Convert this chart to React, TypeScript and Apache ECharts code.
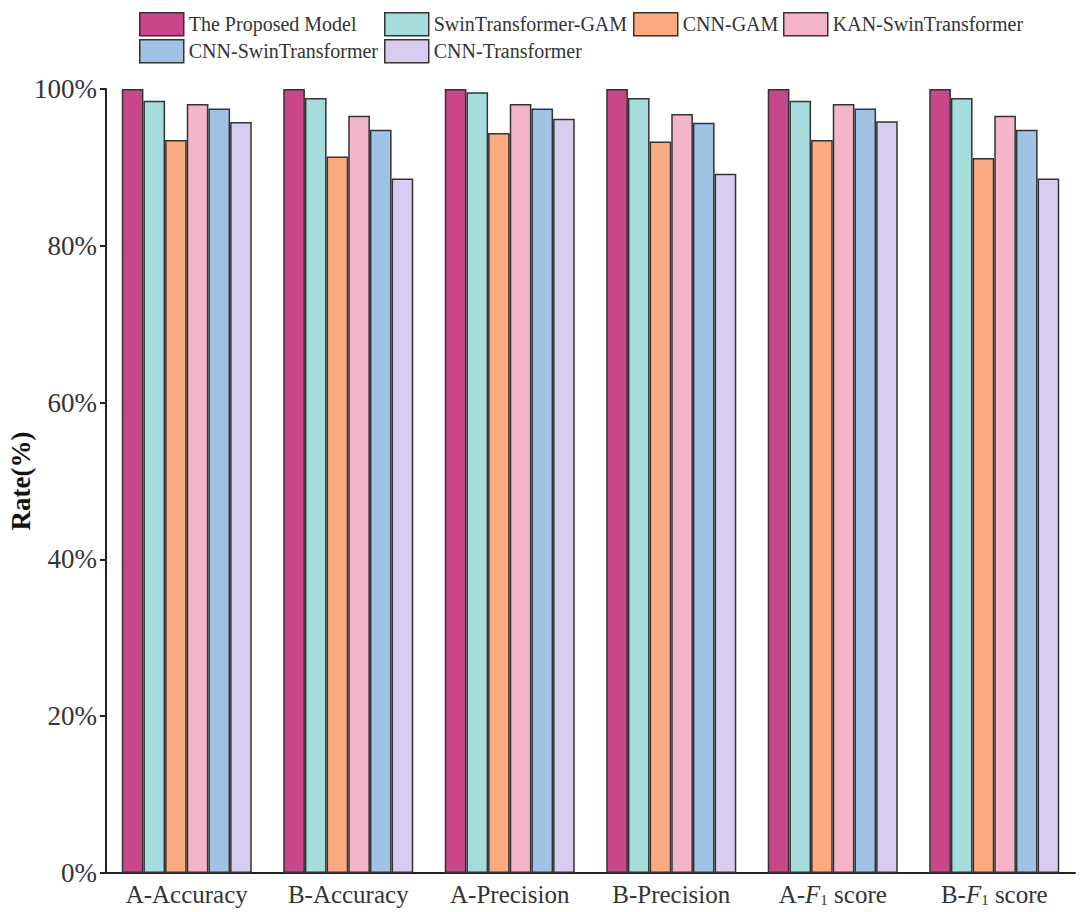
import React, { useEffect, useRef } from "react";
import * as echarts from "echarts";

const categories = ["A-Accuracy", "B-Accuracy", "A-Precision", "B-Precision", "A-F1 score", "B-F1 score"];
const seriesNames = [
  "The Proposed Model",
  "SwinTransformer-GAM",
  "CNN-GAM",
  "KAN-SwinTransformer",
  "CNN-SwinTransformer",
  "CNN-Transformer",
];
const proposed = [100, 100, 100, 100, 100, 100];
const swinGam = [98.5, 98.85, 99.6, 98.85, 98.5, 98.85];
const cnnGam = [93.5, 91.4, 94.4, 93.3, 93.5, 91.2];
const kanSwin = [98.1, 96.6, 98.1, 96.8, 98.1, 96.6];
const cnnSwin = [97.5, 94.8, 97.5, 95.7, 97.5, 94.8];
const cnnTrans = [95.8, 88.6, 96.2, 89.2, 95.9, 88.6];
const seriesValues = [proposed, swinGam, cnnGam, kanSwin, cnnSwin, cnnTrans];
const colors = ["#C9468A", "#A7DCDC", "#FCAA82", "#F5B5C8", "#A0C2E4", "#D8CCF0"];
const yTicks = [0, 20, 40, 60, 80, 100];

const FONT = "'Liberation Serif', 'Times New Roman', serif";

const legendPos = [
  { left: 139, top: 12 },
  { left: 384, top: 12 },
  { left: 633, top: 12 },
  { left: 783, top: 12 },
  { left: 139, top: 39 },
  { left: 384, top: 39 },
];

export default function App() {
  const ref = useRef<HTMLDivElement>(null);
  useEffect(() => {
    if (!ref.current) return;
    const chart = echarts.init(ref.current, null, { renderer: "svg" });
    const option: any = {
      animation: false,
      backgroundColor: "#ffffff",
      legend: seriesNames.map((n, i) => ({
        data: [n],
        left: legendPos[i].left,
        top: legendPos[i].top,
        padding: 0,
        itemWidth: 44,
        itemHeight: 23,
        icon: "rect",
        selectedMode: false,
        itemStyle: { borderColor: "#333", borderWidth: 1.5 },
        textStyle: { fontFamily: FONT, fontSize: 20, color: "#333" },
      })),
      grid: {
        left: 106,
        right: 5,
        top: 89,
        bottom: 39,
        containLabel: false,
        outerBoundsMode: "none",
      },
      xAxis: {
        type: "category",
        data: categories,
        axisLine: { lineStyle: { color: "#222", width: 2 } },
        axisTick: { alignWithLabel: true, length: 5, lineStyle: { color: "#222", width: 2 } },
        axisLabel: {
          interval: 0,
          margin: 9,
          fontFamily: FONT,
          fontSize: 25,
          color: "#333",
          formatter: (v: string) => {
            if (v.indexOf("F1") >= 0) {
              const pre = v.split("F1")[0];
              const post = v.split("F1")[1];
              return `${pre}{i|F}{s|1}${post}`;
            }
            return v;
          },
          rich: {
            i: { fontFamily: FONT, fontSize: 25, fontStyle: "italic", color: "#333" },
            s: { fontFamily: FONT, fontSize: 15, color: "#333", verticalAlign: "bottom", lineHeight: 15 },
          },
        },
      },
      yAxis: {
        type: "value",
        min: yTicks[0],
        max: yTicks[yTicks.length - 1],
        interval: 20,
        name: "Rate(%)",
        nameLocation: "middle",
        nameGap: 72,
        nameMoveOverlap: false,
        nameTextStyle: { fontFamily: FONT, fontSize: 27, fontWeight: "bold", color: "#111" },
        axisLine: { show: true, lineStyle: { color: "#222", width: 2 } },
        axisTick: { show: true, length: 6, lineStyle: { color: "#222", width: 2 } },
        splitLine: { show: false },
        axisLabel: {
          margin: 9,
          fontFamily: FONT,
          fontSize: 27,
          color: "#333",
          formatter: "{value}%",
        },
      },
      series: seriesNames.map((n, i) => ({
        name: n,
        type: "bar",
        data: seriesValues[i],
        barGap: "0%",
        barCategoryGap: "19.5%",
        itemStyle: { color: colors[i], borderColor: "#333", borderWidth: 1.5 },
      })),
    };
    chart.setOption(option);
    return () => chart.dispose();
  }, []);
  return (
    <div
      ref={ref}
      style={{ position: "absolute", left: 0, top: 0, width: 1080, height: 912 }}
    />
  );
}
